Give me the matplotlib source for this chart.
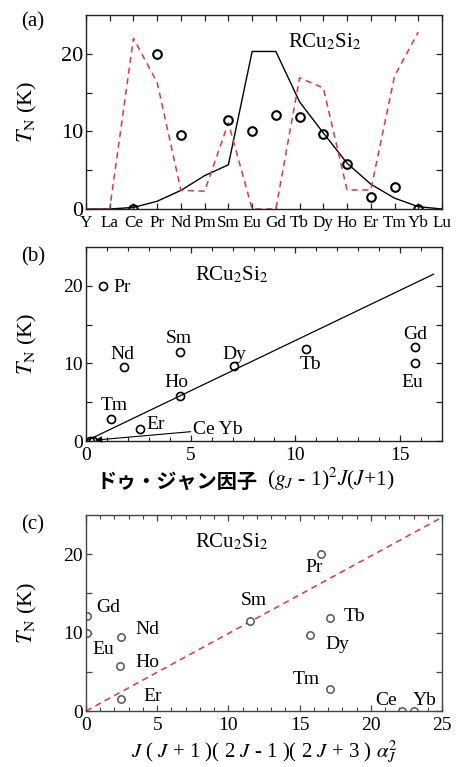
import matplotlib
matplotlib.use("Agg")
import matplotlib.pyplot as plt
import numpy as np

# ---------------- data ----------------
elements = ['Y', 'La', 'Ce', 'Pr', 'Nd', 'Pm', 'Sm', 'Eu', 'Gd', 'Tb',
            'Dy', 'Ho', 'Er', 'Tm', 'Yb', 'Lu']
meas_el = ['Ce', 'Pr', 'Nd', 'Sm', 'Eu', 'Gd', 'Tb', 'Dy', 'Ho', 'Er', 'Tm', 'Yb']
tn = [0.0, 20.0, 9.5, 11.5, 10.0, 12.1, 11.9, 9.7, 5.8, 1.5, 2.8, 0.0]
# de Gennes factor (panel b x values)
dg = [0.18, 0.80, 1.83, 4.47, 15.7, 15.7, 10.5, 7.06, 4.5, 2.57, 1.19, 0.32]
# J(J+1)(2J-1)(2J+3)alpha_J^2 (panel c x values)
quad = [22.2, 16.5, 2.45, 11.55, 0.05, 0.05, 17.1, 15.7, 2.4, 2.45, 17.1, 23.0]

# curves of panel (a): scaled de Gennes (black), scaled quadrupolar (red dashed)
dg_curve = [0, 0, 0.2, 1.0, 2.4, 4.3, 5.7, 20.3, 20.3, 13.8, 9.8, 5.9, 3.2, 1.4, 0.3, 0]
quad_curve = [0, 0, 22.0, 16.3, 2.4, 2.3, 11.1, 0, 0, 16.9, 15.6, 2.45, 2.45, 17.1, 22.8]

# fit lines
fit_b_x = [0, 16.6]
fit_b_y = [0, 21.5]
fit_c_x = [0, 25]
fit_c_y = [0, 24.7]

# ---------------- style ----------------
plt.rcParams['font.family'] = ['Liberation Serif']
plt.rcParams['mathtext.fontset'] = 'stix'

fig = plt.figure(figsize=(4.57, 7.67), dpi=100)
W, H = 457, 767


def ax_at(l, t, r, b):
    return fig.add_axes([l / W, 1 - b / H, (r - l) / W, (b - t) / H])


def style(ax, color='#222222'):
    for s in ax.spines.values():
        s.set_color(color)
        s.set_linewidth(1.0)
    ax.tick_params(which='both', direction='in', top=True, right=True,
                   color=color)
    ax.tick_params(which='major', length=4.5, width=0.9)
    ax.tick_params(which='minor', length=3.0, width=0.8)


def ylab(ax):
    ax.set_ylabel(r'$T_{\rm N}$ (K)', fontsize=16, va='center')
    ax.yaxis.set_label_coords(-0.165, 0.5)


red = '#e8323c'

# ---------------- panel (a) ----------------
axa = ax_at(86, 15, 442, 209)
xs = np.arange(len(elements))
axa.plot(xs, dg_curve, color='black', lw=1.0)
axa.plot(xs[:len(quad_curve)], quad_curve, color=red, lw=1.1, ls=(0, (4, 3)))
mx = [elements.index(e) for e in meas_el]
axa.plot(mx, tn, 'o', ms=6.2, mfc='none', mec='black', mew=1.5)
axa.set_xlim(0, 15)
axa.set_ylim(0, 25)
axa.set_xticks(xs)
axa.set_xticklabels(elements, fontsize=12.3)
axa.set_yticks([0, 5, 10, 15, 20])
axa.set_yticklabels(['0', '', '10', '', '20'], fontsize=16)
style(axa)
axa.tick_params(axis='x', pad=4.5)
axa.tick_params(axis='y', pad=2)
ylab(axa)
axa.text(10.07, 21.5, r'RCu$_2$Si$_2$', fontsize=15, ha='center', va='center')
fig.text(33 / W, 1 - 22 / H, '(a)', fontsize=15, ha='center', va='center')

# ---------------- panel (b) ----------------
axb = ax_at(86, 247, 442, 441)
axb.plot(fit_b_x, fit_b_y, color='black', lw=0.9)
axb.plot(dg, tn, 'o', ms=5.8, mfc='none', mec='black', mew=1.2)
axb.set_xlim(0, 17)
axb.set_ylim(0, 25)
axb.set_xticks([0, 5, 10, 15])
axb.set_xticks(np.arange(0, 18, 1), minor=True)
axb.set_yticks([0, 5, 10, 15, 20])
axb.set_yticklabels(['0', '', '10', '', '20'])
style(axb)
axb.tick_params(labelsize=14)
axb.tick_params(axis='x', pad=4)
axb.tick_params(axis='y', pad=2)
ylab(axb)
axb.text(6.98, 21.4, r'RCu$_2$Si$_2$', fontsize=15, ha='center', va='center')

lab_b = {'Pr': (1.3, 19.8, 'left'), 'Nd': (1.75, 11.1, 'center'),
         'Sm': (4.45, 13.2, 'center'), 'Dy': (7.1, 11.1, 'center'),
         'Ho': (4.3, 7.5, 'center'), 'Tm': (1.35, 4.6, 'center'),
         'Er': (2.9, 2.1, 'left'), 'Tb': (10.7, 9.8, 'center'),
         'Gd': (15.7, 13.7, 'center'), 'Eu': (15.6, 7.5, 'center')}
for k, (x, y, ha) in lab_b.items():
    axb.text(x, y, k, fontsize=14, ha=ha, va='center')
axb.text(5.1, 1.45, 'Ce Yb', fontsize=14, ha='left', va='center')
axb.annotate('', xy=(0.45, 0.12), xytext=(5.0, 1.2),
             arrowprops=dict(arrowstyle='-|>', lw=0.8, color='black',
                             mutation_scale=9, shrinkA=0, shrinkB=0))
fig.text(33 / W, 1 - 257 / H, '(b)', fontsize=15, ha='center', va='center')

fig.text(177 / W, 1 - 481 / H, 'ドゥ・ジャン因子', fontsize=14.5,
         family=['Noto Sans CJK JP', 'DejaVu Sans'], fontweight='bold',
         ha='center', va='center')
fig.text(331 / W, 1 - 479 / H, r'($g_J$ - 1)$^2$$J$($J$+1)', fontsize=15.5,
         ha='center', va='center')

# ---------------- panel (c) ----------------
gray = '#444444'
axc = ax_at(86, 515, 442, 711)
axc.plot(fit_c_x, fit_c_y, color=red, lw=1.1, ls=(0, (4, 3)))
axc.plot(quad, tn, 'o', ms=5.3, mfc='white', mec='#555555', mew=1.1)
axc.set_xlim(0, 25)
axc.set_ylim(0, 25)
axc.set_xticks([0, 5, 10, 15, 20, 25])
axc.set_xticks(np.arange(0, 26, 1), minor=True)
axc.set_yticks([0, 5, 10, 15, 20])
axc.set_yticklabels(['0', '', '10', '', '20'])
style(axc, color=gray)
axc.tick_params(labelsize=14)
axc.tick_params(axis='x', pad=4)
axc.tick_params(axis='y', pad=2)
ylab(axc)
axc.set_xlabel(r'$J$ ( $J$ + 1 )( 2 $J$ - 1 )( 2 $J$ + 3 ) $\alpha_J^2$',
               fontsize=15, labelpad=3)
axc.text(10.25, 21.5, r'RCu$_2$Si$_2$', fontsize=15, ha='center', va='center')

lab_c = {'Gd': (0.75, 13.2, 'left'), 'Nd': (3.45, 10.4, 'left'),
         'Eu': (0.45, 7.8, 'left'), 'Ho': (3.45, 6.2, 'left'),
         'Er': (4.0, 1.8, 'left'), 'Sm': (11.75, 14.1, 'center'),
         'Pr': (16.0, 18.3, 'center'), 'Tb': (18.1, 12.0, 'left'),
         'Dy': (16.8, 8.5, 'left'), 'Tm': (15.5, 4.0, 'center'),
         'Ce': (21.1, 1.3, 'center'), 'Yb': (23.8, 1.3, 'center')}
for k, (x, y, ha) in lab_c.items():
    axc.text(x, y, k, fontsize=14, ha=ha, va='center')
fig.text(33 / W, 1 - 525 / H, '(c)', fontsize=15, ha='center', va='center')

fig.savefig('out.png', dpi=100)
